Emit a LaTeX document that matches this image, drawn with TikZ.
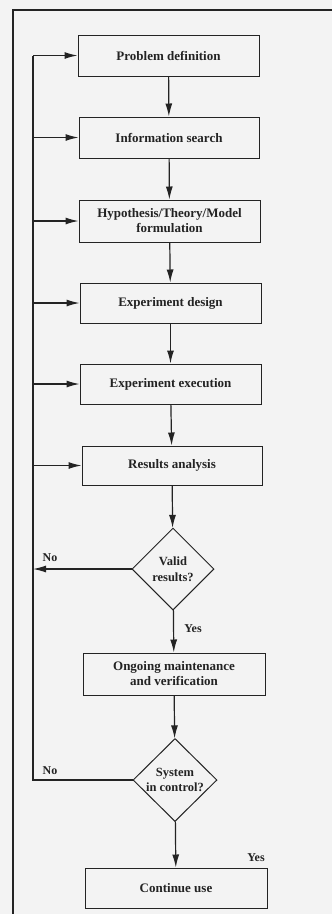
\documentclass[tikz,border=0pt]{standalone}
\usepackage{fontspec}
\setmainfont{Liberation Serif}
\usetikzlibrary{shapes.geometric,arrows.meta}
\definecolor{ink}{RGB}{35,35,35}
\definecolor{paper}{RGB}{243,243,243}
\tikzset{
  stepbox/.style={draw=ink, line width=1pt, align=center, inner sep=1pt,
    font=\bfseries\fontsize{13}{15}\selectfont, text=ink},
  decision/.style={diamond, draw=ink, line width=1pt, align=center, inner sep=0pt,
    font=\bfseries\fontsize{12.5}{15.5}\selectfont, text=ink},
  conn/.style={draw=ink, line width=1.2pt},
  arr/.style={conn, -{Latex[length=13pt,width=7pt]}},
  lbl/.style={font=\bfseries\fontsize{12}{14}\selectfont, text=ink, inner sep=0pt}
}
\begin{document}
\begin{tikzpicture}[x=1pt,y=-1pt]
\fill[paper] (0,0) rectangle (332,914);
\useasboundingbox (0,0) rectangle (332,914);
% outer frame (cut off by page)
\draw[ink, line width=1.3pt] (13,914) -- (13,10) -- (332,10);

\node[stepbox, minimum width=181pt, minimum height=41pt] (p1) at (168.5,55.5) {Problem definition};
\node[stepbox, minimum width=180pt, minimum height=41pt] (p2) at (169,137.5) {Information search};
\node[stepbox, minimum width=181pt, minimum height=42pt] (p3) at (169.5,221) {Hypothesis/Theory/Model\\formulation};
\node[stepbox, minimum width=181pt, minimum height=40pt] (p4) at (170.5,303) {Experiment design};
\node[stepbox, minimum width=181pt, minimum height=40pt] (p5) at (170.5,384) {Experiment execution};
\node[stepbox, minimum width=180pt, minimum height=39pt] (p6) at (172,465.5) {Results analysis};
\node[decision, minimum width=82pt, minimum height=82pt] (d1) at (173,569) {Valid\\results?};
\node[stepbox, minimum width=182pt, minimum height=42pt] (p7) at (174,674) {Ongoing maintenance\\and verification};
\node[decision, minimum width=84pt, minimum height=83pt] (d2) at (175,780) {System\\in control?};
\node[stepbox, minimum width=182pt, minimum height=40pt] (p8) at (176,888) {Continue use};

% main flow
\draw[arr] (p1) -- (p2);
\draw[arr] (p2) -- (p3);
\draw[arr] (p3) -- (p4);
\draw[arr] (p4) -- (p5);
\draw[arr] (p5) -- (p6);
\draw[arr] (p6) -- (d1);
\draw[arr] (d1) -- (p7);
\draw[arr] (p7) -- (d2);
\draw[arr] (d2) -- (p8);

% feedback bus
\coordinate (fbx) at (33,0);
\coordinate (fbtop) at (p1.west -| fbx);
\coordinate (fbbot) at (d2.west -| fbx);
\draw[conn] (fbtop) -- (fbbot) -- (d2.west);
\draw[arr] (fbtop) -- (p1.west);
\draw[arr] (p2.west -| fbx) -- (p2.west);
\draw[arr] (p3.west -| fbx) -- (p3.west);
\draw[arr] (p4.west -| fbx) -- (p4.west);
\draw[arr] (p5.west -| fbx) -- (p5.west);
\draw[arr] (p6.west -| fbx) -- (p6.west);
\coordinate (fbnode) at (d1.west -| fbx);
\draw[arr] (d1.west) -- (fbnode);

% labels
\node[lbl] (no1) at (50,558) {No};
\node[lbl] (no2) at (50,771) {No};
\node[lbl] (yes1) at (193,629) {Yes};
\node[lbl] (yes2) at (256,858) {Yes};
\end{tikzpicture}
\end{document}
